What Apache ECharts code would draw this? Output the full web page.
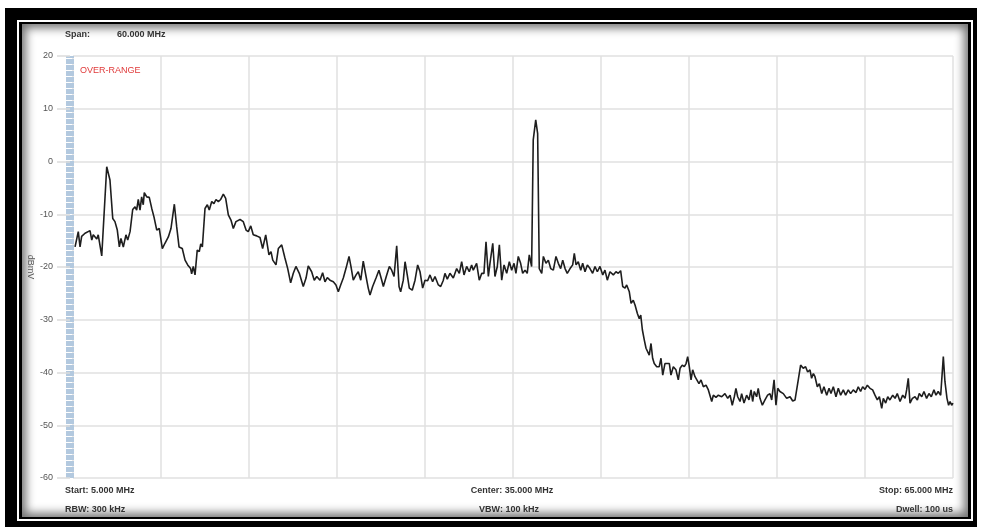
<!DOCTYPE html>
<html>
<head>
<meta charset="utf-8">
<script src="https://cdn.jsdelivr.net/npm/echarts@6/dist/echarts.min.js"></script>
<style>
  html, body { margin:0; padding:0; background:#fff; width:981px; height:527px; overflow:hidden; }
  #outer { position:absolute; left:5px; top:8px; width:972px; height:530px; background:#000; }
  #wline { position:absolute; left:17px; top:20px; width:952px; height:497px; border:2px solid #fff; background:#000; }
  #panel { position:absolute; left:22px; top:24px; width:946px; height:493px; background:#fff;
           box-shadow: inset 0 0 10px 4px rgba(0,0,0,0.55); }
  #chart { position:absolute; left:0; top:0; width:981px; height:527px; }
</style>
</head>
<body>
<div id="outer"></div>
<div id="wline"></div>
<div id="panel"></div>
<div id="chart"></div>
<script>
// Frequency (MHz) and level (dBmV) of the spectrum trace
const freqMHz = [
5.14,5.36,5.48,5.59,5.82,6.16,6.28,6.38,6.62,6.72,6.96,7.30,7.52,7.71,7.86,8.02,8.16,8.27,8.43,8.61,
8.73,8.89,9.07,9.23,9.34,9.45,9.57,9.68,9.79,9.86,10.03,10.20,10.37,10.52,10.71,10.88,11.09,11.27,11.50,11.68,
11.91,12.07,12.23,12.45,12.64,12.82,13.02,13.09,13.20,13.32,13.47,13.61,13.71,13.82,14.00,14.16,14.29,14.46,14.61,14.75,
14.91,15.07,15.25,15.41,15.59,15.77,15.93,16.11,16.39,16.61,16.80,16.95,17.12,17.29,17.52,17.75,17.93,18.14,18.36,18.50,
18.62,18.84,19.00,19.23,19.45,19.64,19.84,20.02,20.20,20.43,20.70,20.89,21.04,21.27,21.45,21.62,21.84,22.02,22.18,22.34,
22.52,22.75,22.93,23.09,23.25,23.43,23.61,23.82,23.95,24.11,24.30,24.45,24.62,24.79,24.98,25.13,25.25,25.43,25.66,25.86,
26.05,26.16,26.39,26.57,26.73,26.89,27.07,27.23,27.34,27.52,27.64,27.79,27.93,28.13,28.32,28.50,28.66,28.84,29.00,29.18,
29.34,29.52,29.68,29.91,30.07,30.25,30.36,30.52,30.70,30.93,31.16,31.34,31.50,31.66,31.84,32.02,32.18,32.29,32.52,32.70,
32.87,33.02,33.16,33.32,33.43,33.62,33.77,33.93,34.07,34.23,34.39,34.57,34.75,34.91,35.07,35.20,35.36,35.52,35.66,35.82,
35.97,36.11,36.27,36.38,36.55,36.68,36.79,36.96,37.07,37.25,37.41,37.57,37.75,37.93,38.09,38.25,38.39,38.55,38.70,38.89,
39.07,39.18,39.30,39.45,39.62,39.75,39.91,40.07,40.25,40.43,40.59,40.75,40.93,41.12,41.27,41.43,41.61,41.84,42.02,42.18,
42.34,42.48,42.64,42.75,42.93,43.05,43.20,43.32,43.48,43.61,43.71,43.82,43.95,44.07,44.18,44.29,44.41,44.52,44.63,44.80,
44.97,45.09,45.21,45.36,45.48,45.66,45.77,45.93,46.11,46.27,46.39,46.54,46.68,46.80,46.91,47.02,47.14,47.25,47.41,47.52,
47.68,47.82,47.98,48.16,48.32,48.43,48.55,48.66,48.84,49.00,49.23,49.45,49.64,49.80,49.95,50.09,50.20,50.32,50.48,50.59,
50.75,50.93,51.09,51.23,51.34,51.45,51.61,51.72,51.84,52.00,52.18,52.36,52.52,52.64,52.80,52.93,53.05,53.20,53.43,53.66,
53.89,54.07,54.23,54.45,54.61,54.79,54.95,55.09,55.25,55.36,55.48,55.59,55.75,55.89,56.05,56.20,56.39,56.55,56.68,56.84,
57.02,57.18,57.34,57.52,57.68,57.86,58.02,58.20,58.39,58.54,58.70,58.84,59.00,59.16,59.34,59.52,59.68,59.84,59.98,60.14,
60.25,60.41,60.55,60.70,60.89,61.05,61.20,61.39,61.57,61.73,61.84,61.95,62.07,62.23,62.41,62.57,62.70,62.87,63.02,63.20,
63.36,63.52,63.70,63.84,63.99,64.16,64.34,64.45,64.59,64.70,64.80,64.91,65.00
];
const levelDbmv = [
-16.2,-13.3,-16.2,-14.2,-13.6,-13.1,-14.9,-13.9,-14.7,-13.9,-17.9,-1.0,-3.5,-10.8,-11.4,-13.0,-16.2,-14.6,-16.2,-13.9,
-14.9,-13.3,-9.1,-8.6,-9.2,-7.2,-9.2,-6.7,-8.2,-5.9,-6.7,-6.8,-8.9,-10.5,-13.0,-12.7,-16.5,-15.5,-14.3,-12.7,
-8.1,-12.4,-16.2,-16.5,-18.7,-19.6,-20.3,-21.3,-19.9,-21.5,-16.8,-17.1,-15.6,-16.2,-8.9,-8.2,-9.2,-7.6,-8.0,-7.2,
-7.6,-7.2,-6.2,-7.0,-10.1,-11.1,-12.7,-11.4,-11.0,-11.4,-13.0,-13.3,-12.2,-13.9,-14.1,-14.4,-16.5,-13.9,-17.7,-17.1,
-18.7,-19.6,-16.5,-15.8,-18.3,-20.3,-23.0,-21.2,-19.9,-21.2,-23.7,-22.1,-19.8,-20.9,-22.5,-21.8,-22.5,-21.1,-22.8,-22.0,
-22.5,-22.8,-23.4,-24.7,-23.4,-22.1,-20.3,-18.0,-19.9,-22.5,-21.5,-20.9,-22.5,-18.9,-21.8,-24.0,-25.3,-23.7,-22.1,-20.6,
-22.5,-23.7,-21.5,-19.9,-20.6,-21.8,-16.0,-23.7,-24.7,-22.5,-19.0,-21.5,-24.0,-24.4,-22.5,-19.6,-20.9,-24.0,-22.5,-22.6,
-21.5,-22.8,-21.8,-23.4,-23.7,-22.5,-21.2,-22.3,-21.2,-22.1,-20.3,-21.2,-19.0,-21.5,-19.9,-20.9,-19.6,-20.6,-19.3,-22.5,
-21.2,-21.2,-15.2,-21.8,-19.3,-15.5,-21.8,-19.9,-15.8,-22.5,-19.6,-21.2,-19.0,-20.6,-19.3,-21.2,-18.0,-19.3,-21.2,-20.6,
-21.2,-17.7,-19.9,4.1,7.9,5.3,-20.3,-21.2,-18.0,-19.3,-18.7,-20.3,-20.6,-18.0,-19.3,-20.3,-18.7,-20.3,-21.2,-20.3,
-19.6,-17.4,-19.6,-19.0,-20.6,-19.3,-20.9,-19.6,-20.3,-21.2,-19.9,-20.9,-19.9,-21.5,-20.6,-22.5,-20.9,-21.5,-20.9,-21.2,
-20.7,-23.7,-24.0,-23.4,-24.7,-26.9,-26.3,-27.2,-28.8,-29.8,-29.1,-31.9,-33.8,-35.4,-35.7,-36.7,-34.5,-37.3,-38.3,-38.9,
-38.9,-37.3,-40.5,-38.3,-38.0,-38.3,-40.5,-38.9,-39.5,-41.4,-39.2,-38.6,-38.9,-38.3,-37.0,-38.9,-41.4,-39.5,-40.8,-40.5,
-42.1,-41.4,-42.7,-42.4,-43.3,-43.0,-45.5,-44.3,-44.7,-44.3,-44.6,-44.0,-44.9,-44.3,-46.2,-44.6,-43.0,-44.6,-45.5,-44.0,
-45.8,-44.3,-45.2,-43.3,-45.5,-43.6,-44.6,-43.0,-44.9,-46.2,-45.2,-44.3,-44.0,-45.2,-41.4,-46.2,-43.0,-43.6,-44.0,-44.9,
-44.6,-45.4,-45.2,-41.4,-38.6,-39.2,-38.9,-39.9,-39.5,-41.1,-40.2,-40.8,-42.7,-42.1,-44.0,-42.7,-44.3,-43.0,-44.0,-42.7,
-44.6,-43.0,-44.3,-43.3,-44.3,-43.3,-44.0,-43.3,-43.8,-42.7,-43.6,-42.7,-43.2,-42.4,-43.0,-43.3,-44.3,-45.2,-44.6,-46.8,
-44.9,-45.8,-44.6,-45.2,-44.3,-44.9,-44.0,-45.5,-44.3,-44.9,-43.3,-41.1,-45.8,-44.9,-44.6,-45.2,-44.0,-44.6,-43.6,-44.9,
-44.0,-44.6,-43.3,-44.3,-43.6,-44.3,-37.0,-41.7,-44.9,-46.2,-45.5,-46.2,-45.8
];
const yTicks = { min: -60, max: 20, step: 10 };
const xRange = { start: 5, stop: 65, div: 6 };
const infoTop = ['Span:', '60.000 MHz'];
const infoLeft = ['Start: 5.000 MHz', 'RBW: 300 kHz'];
const infoMid = ['Center: 35.000 MHz', 'VBW: 100 kHz'];
const infoRight = ['Stop: 65.000 MHz', 'Dwell: 100 us'];
const flagText = 'OVER-RANGE';
const yUnit = 'dBmV';

const chart = echarts.init(document.getElementById('chart'), null, { renderer: 'canvas' });
const FAM = '"Liberation Sans", Arial, sans-serif';
const FONT = 'bold 9px ' + FAM;
const TXT = '#333';
function t(text, x, y, align, fill, font) {
  return {
    type: 'text', x: x, y: y, silent: true,
    style: { text: text, font: font || FONT, fill: fill || TXT, align: align || 'left', verticalAlign: 'middle' }
  };
}
const option = {
  animation: false,
  grid: { left: 73, right: 28, top: 56, bottom: 49 },
  xAxis: {
    type: 'value', min: xRange.start, max: xRange.stop, interval: xRange.div,
    axisLabel: { show: false }, axisTick: { show: false }, axisLine: { show: false },
    splitLine: { show: true, lineStyle: { color: '#e0e0e0', width: 1.5 } }
  },
  yAxis: {
    type: 'value', min: yTicks.min, max: yTicks.max, interval: yTicks.step, offset: 3,
    name: yUnit, nameLocation: 'middle', nameRotate: -90, nameGap: 35, nameMoveOverlap: false,
    nameTextStyle: { color: '#555', fontSize: 9, fontFamily: FAM },
    axisLabel: { color: '#555', fontSize: 9, margin: 17, fontFamily: FAM },
    axisTick: { show: true, length: 13, lineStyle: { color: '#dcdcdc', width: 1.5 } },
    axisLine: { show: true, lineStyle: { color: '#b3c9df', width: 8, type: [5, 1], cap: 'butt' } },
    splitLine: { show: true, lineStyle: { color: '#e0e0e0', width: 1.5 } }
  },
  series: [{
    type: 'line', showSymbol: false, symbol: 'none',
    data: freqMHz.map((f, i) => [f, levelDbmv[i]]),
    lineStyle: { color: '#1e1e1e', width: 1.6 },
    z: 5
  }],
  graphic: [
    t(infoTop[0], 65, 35),
    t(infoTop[1], 117, 35),
    t(flagText, 80, 71, 'left', '#e03a3a', '9px ' + FAM),
    t(infoLeft[0], 65, 491),
    t(infoLeft[1], 65, 510),
    t(infoMid[0], 512, 491, 'center'),
    t(infoMid[1], 509, 510, 'center'),
    t(infoRight[0], 953, 491, 'right'),
    t(infoRight[1], 953, 510, 'right')
  ]
};
chart.setOption(option);
</script>
</body>
</html>
